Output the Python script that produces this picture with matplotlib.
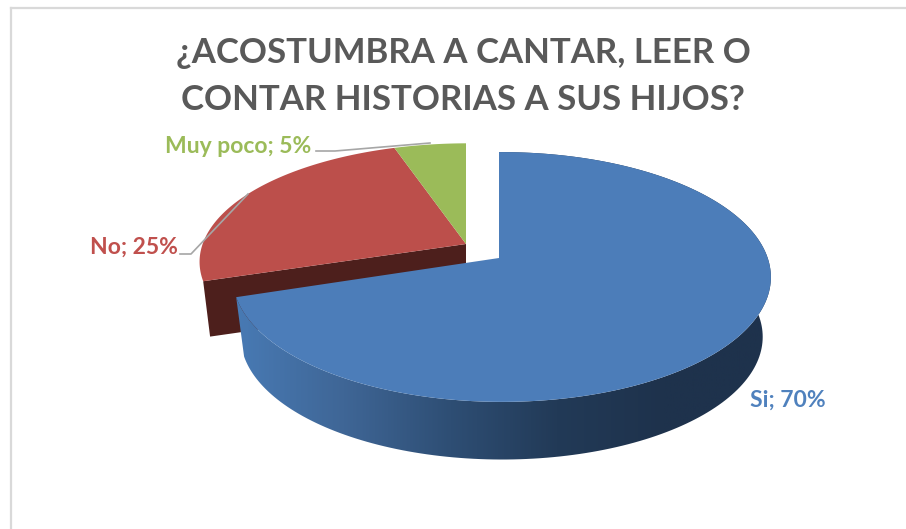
import numpy as np
import matplotlib
matplotlib.use('Agg')
from matplotlib import pyplot as plt
from matplotlib.patches import Polygon
from matplotlib.colors import LinearSegmentedColormap

title = ['¿ACOSTUMBRA A CANTAR, LEER O', 'CONTAR HISTORIAS A SUS HIJOS?']
categories = ['Si', 'No', 'Muy poco']
values = [70, 25, 5]
colors = ['#4c7db9', '#bc4f4b', '#9bbb59']
text_colors = ['#4f81bd', '#c0504d', '#9bbb59']

plt.rcParams['font.family'] = ['Lato', 'DejaVu Sans']

fig = plt.figure(figsize=(9.06, 5.29), dpi=100)
ax = fig.add_axes([0, 0, 1, 1])
ax.set_xlim(0, 906)
ax.set_ylim(529, 0)
ax.axis('off')


# clockwise angle from 12 o'clock to a flat pie drawn with some perspective
def project(deg, cx, cy, a=266.0, b=122.0):
    t = np.radians(deg)
    u, v = np.sin(t), np.cos(t)
    w = 1 + 0.152 * v - 0.01 * u
    return cx + a * u / w, cy - b * v / w


def arc(d0, d1, cx, cy, a=266.0, b=122.0):
    deg = np.linspace(d0, d1, 200)
    x, y = project(deg, cx, cy, a, b)
    return np.column_stack([x, y])


shares = np.array(values) / sum(values) * 360
edges = np.concatenate([[0], np.cumsum(shares)])

# the two small slices are pulled out together, up and to the left
red0, red1 = edges[1], edges[2]
gx, gy = 466, 244
front = np.array([[gx, gy], project(red0, gx, gy, 266, 116),
                  project(red0, gx, gy + 56, 259, 114), [gx, gy + 56]])
ax.add_patch(Polygon(front, closed=True, fc='#4d1f1c', ec='none', zorder=1))

for i in [1, 2]:
    pts = np.vstack([[[gx, gy]], arc(edges[i], edges[i + 1], gx, gy, 266, 116)])
    ax.add_patch(Polygon(pts, closed=True, fc=colors[i], ec='none', zorder=2))

# big slice, side wall with the shading then the top
bx, by = 499, 258
top_arc = arc(0, edges[1], bx, by)
low_arc = arc(0, edges[1], bx, by + 60, 258, 120)
wall = Polygon(np.vstack([top_arc, low_arc[::-1]]), closed=True, fc='none', ec='none', zorder=3)
ax.add_patch(wall)
shade = LinearSegmentedColormap.from_list('shade', ['#487ab4', '#3f6696', '#2e4e74', '#223a57', '#1e324c', '#1e324c'])
im = ax.imshow(np.linspace(0, 1, 256).reshape(1, -1), cmap=shade, aspect='auto',
               extent=[236, 772, 470, 150], zorder=3)
im.set_clip_path(wall)
ax.set_xlim(0, 906)
ax.set_ylim(529, 0)

pts = np.vstack([[[bx, by]], top_arc])
ax.add_patch(Polygon(pts, closed=True, fc=colors[0], ec='none', zorder=4))

# frame, only top and left show
ax.plot([11, 11], [529, 8], color='#d9d9d9', lw=1.6, zorder=0)
ax.plot([11, 906], [8, 8], color='#d9d9d9', lw=1.6, zorder=0)

ax.text(463, 63, title[0], ha='center', va='baseline', fontsize=25, fontweight='bold', color='#595959')
ax.text(463, 110, title[1], ha='center', va='baseline', fontsize=25, fontweight='bold', color='#595959')

# leader lines
ax.plot([316, 335, 430], [151, 151, 143], color='#a6a6a6', lw=1.2, zorder=5)
ax.plot([180, 191, 248], [254, 254, 194], color='#a6a6a6', lw=1.2, zorder=5)

labels = ['%s; %d%%' % (c, v) for c, v in zip(categories, values)]
ax.text(788, 407, labels[0], ha='center', va='baseline', fontsize=16.5, fontweight='bold', color=text_colors[0])
ax.text(134, 254, labels[1], ha='center', va='baseline', fontsize=16.5, fontweight='bold', color=text_colors[1])
ax.text(238, 153, labels[2], ha='center', va='baseline', fontsize=16.5, fontweight='bold', color=text_colors[2])

fig.savefig('out.png', dpi=100)
